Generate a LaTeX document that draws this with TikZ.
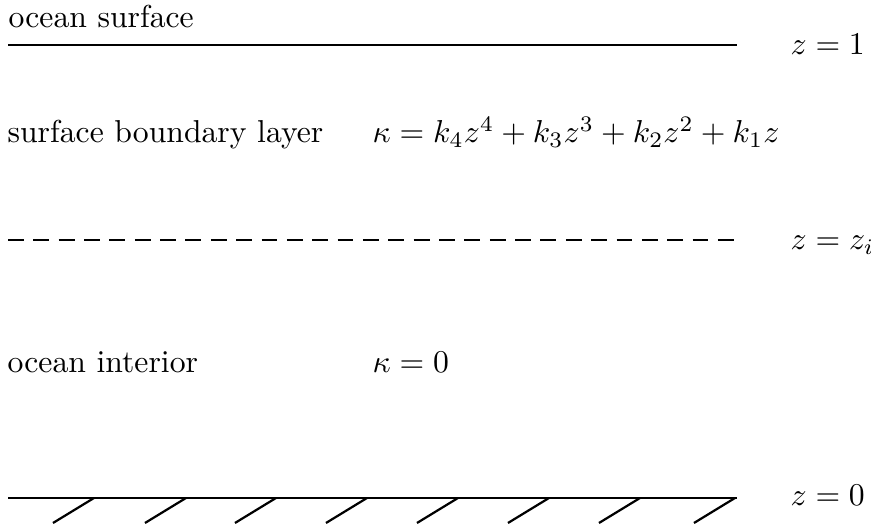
\documentclass[tikz,border=0pt]{standalone}
\usepackage{amsmath}
\begin{document}
\begin{tikzpicture}[x=0.3155pt,y=-0.3155pt,
  lbl/.style={anchor=base west,inner sep=0pt},
  surf/.style={line width=0.9pt},
  hatch/.style={line width=0.7pt}]
\useasboundingbox (0,0) rectangle (871,528);
% lines
\coordinate (s1) at (8,45); \coordinate (s2) at (737,45);
\draw[surf] (s1) -- (s2);
\coordinate (d1) at (8,240); \coordinate (d2) at (734.5,240);
\draw[surf,dash pattern=on 5pt off 3pt] (d1) -- (d2);
\coordinate (b1) at (8,498); \coordinate (b2) at (737,498);
\draw[surf] (b1) -- (b2);
\foreach \x in {94,186,276,367,458,549,640,735}{
  \draw[hatch] (\x,498) -- ++(-41,25);
}
% texts
\node[lbl] (t1) at (8,28) {ocean surface};
\node[lbl] (z1) at (790,55) {$z=1$};
\node[lbl] (t2) at (7,143) {surface boundary layer};
\node[lbl] (k1) at (372,143) {$\kappa=k_4z^4+k_3z^3+k_2z^2+k_1z$};
\node[lbl] (z2) at (790,250) {$z=z_i$};
\node[lbl] (t3) at (7,373) {ocean interior};
\node[lbl] (k2) at (372,373) {$\kappa=0$};
\node[lbl] (z3) at (790,506) {$z=0$};
\end{tikzpicture}
\end{document}
